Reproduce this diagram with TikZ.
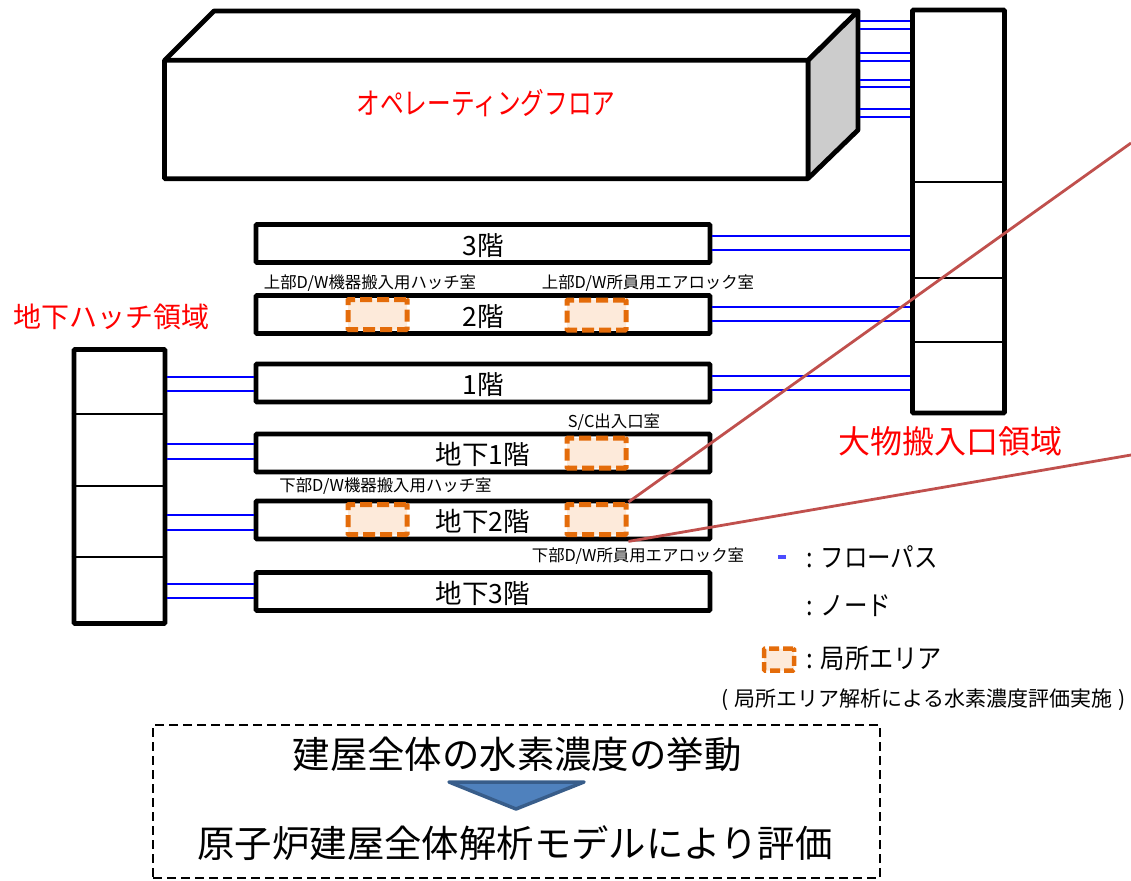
\documentclass[tikz,border=0pt]{standalone}
\usepackage{fontspec}
\setmainfont{Noto Sans CJK JP}
\definecolor{areaorange}{HTML}{E46C0A}
\definecolor{areafill}{HTML}{FDEADA}
\definecolor{leaderred}{HTML}{C0504D}
\definecolor{arrowblue}{HTML}{4F81BD}
\definecolor{arrowedge}{HTML}{385D8A}
\tikzset{
  zonebox/.style={rectangle, draw, line width=4.8pt, fill=white, inner sep=0pt, rounded corners=1pt},
  floorbox/.style={zonebox, minimum width=454pt, minimum height=38pt, text height=24pt, text depth=1pt, font=\fontsize{26.5}{26}\selectfont},
  localarea/.style={rectangle, draw=areaorange, fill=areafill, line width=5pt, dash pattern=on 12pt off 5pt, rounded corners=1pt, minimum width=59pt, minimum height=30pt, inner sep=0pt},
  flowpath/.style={blue, line width=1.8pt},
  divider/.style={line width=1.6pt},
  leader/.style={leaderred, line width=2.8pt},
  roomlabel/.style={font=\fontsize{16.4}{15}\selectfont, inner sep=0pt},
  redlabel/.style={red, inner sep=0pt},
  legendlabel/.style={font=\fontsize{27}{26}\selectfont, inner sep=0pt, anchor=west, xscale=.87, transform shape},
  summarytext/.style={font=\fontsize{37.4}{37}\selectfont, inner sep=0pt}
}
\begin{document}
\begin{tikzpicture}[x=1pt, y=-1pt]
    \useasboundingbox (0,0) rectangle (1131,880);
    % operating floor, with its top and side faces
    \draw [line width=4.8pt, fill=white, line join=round] (164.5,60.5) -- (214,11) -- (858,11) -- (808,60.5) -- cycle;
    \draw [line width=4.8pt, fill=black!20, line join=round] (808,60.5) -- (858,11) -- (858,130) -- (808,178.5) -- cycle;
    \node [zonebox, minimum width=643.5pt, minimum height=118.5pt] (opfloor) at (486.25,119.5) {};
    \node [redlabel, font=\fontsize{30}{30}\selectfont, xscale=.79, transform shape] (opfloorlabel) at (486,103) {オペレーティングフロア};
    % large equipment hatch zone
    \node [zonebox, minimum width=92pt, minimum height=403pt] (hatchzone) at (958.5,211.5) {};
    \draw [divider] (hatchzone.west |- 0,182) -- (hatchzone.east |- 0,182);
    \draw [divider] (hatchzone.west |- 0,278) -- (hatchzone.east |- 0,278);
    \draw [divider] (hatchzone.west |- 0,342) -- (hatchzone.east |- 0,342);
    \node [redlabel, font=\fontsize{32}{32}\selectfont] (hatchzonelabel) at (950,441) {大物搬入口領域};
    % basement hatch zone
    \node [zonebox, minimum width=91pt, minimum height=274pt] (basezone) at (119.5,486.5) {};
    \draw [divider] (basezone.west |- 0,414) -- (basezone.east |- 0,414);
    \draw [divider] (basezone.west |- 0,486) -- (basezone.east |- 0,486);
    \draw [divider] (basezone.west |- 0,557) -- (basezone.east |- 0,557);
    \node [redlabel, font=\fontsize{28}{28}\selectfont] (basezonelabel) at (111.5,317) {地下ハッチ領域};
    % floors
    \node [floorbox] (floorC) at (483,243.5) {3階};
    \node [floorbox] (floorB) at (483,314.5) {2階};
    \node [floorbox] (floorA) at (483,383) {1階};
    \node [floorbox] (basementA) at (483,453) {地下1階};
    \node [floorbox] (basementB) at (483,520) {地下2階};
    \node [floorbox] (basementC) at (483,591.5) {地下3階};
    % flow paths
    \foreach \y in {21,29,53,61,80,87,109,117}
      \draw [flowpath] (860,\y) -- (hatchzone.west |- 0,\y);
    \foreach \floorname/\ya/\yb in {floorC/236/250, floorB/307/321, floorA/376/390}
      \draw [flowpath] (\floorname.east |- 0,\ya) -- (hatchzone.west |- 0,\ya)
                       (\floorname.east |- 0,\yb) -- (hatchzone.west |- 0,\yb);
    \foreach \floorname/\ya/\yb in {floorA/377/391, basementA/444/459, basementB/515/530, basementC/584/598}
      \draw [flowpath] (basezone.east |- 0,\ya) -- (\floorname.west |- 0,\ya)
                       (basezone.east |- 0,\yb) -- (\floorname.west |- 0,\yb);
    % local areas
    \node [localarea] (areaA) at (377.5,314.5) {};
    \node [localarea] (areaB) at (596.5,315) {};
    \node [localarea] (areaC) at (596.5,453) {};
    \node [localarea] (areaD) at (377.5,519.5) {};
    \node [localarea] (areaE) at (596.5,519.5) {};
    \node [roomlabel] (roomA) at (370,283) {上部D/W機器搬入用ハッチ室};
    \node [roomlabel] (roomB) at (648,283) {上部D/W所員用エアロック室};
    \node [roomlabel] (roomC) at (614,422) {S/C出入口室};
    \node [roomlabel] (roomD) at (385.5,486) {下部D/W機器搬入用ハッチ室};
    \node [roomlabel] (roomE) at (638,556) {下部D/W所員用エアロック室};
    % leaders to the enlarged view
    \coordinate (leaderA) at (1131,143);
    \coordinate (leaderB) at (1131,455);
    \draw [leader] (areaE.north east) -- (leaderA);
    \draw [leader] (areaE.east |- basementB.south) -- (leaderB);
    % legend
    \node [fill=blue!70, minimum width=8pt, minimum height=3.5pt, inner sep=0pt] (legendflow) at (782,557) {};
    \node [legendlabel] (legendflowtext) at (806,557) {:\hspace{9pt}フローパス};
    \node [legendlabel] (legendnodetext) at (806,606) {:\hspace{9pt}ノード};
    \node [localarea, line width=4.5pt, dash pattern=on 10pt off 4pt, minimum width=30pt, minimum height=22pt] (legendarea) at (779,659.5) {};
    \node [legendlabel, xscale=1.03] (legendareatext) at (806,658) {:\hspace{9pt}局所エリア};
    \node [font=\fontsize{21}{18}\selectfont, inner sep=0pt] (legendnote) at (923.5,700) {(\hspace{6pt}局所エリア解析による水素濃度評価実施\hspace{6pt})};
    % summary box
    \node [rectangle, draw, line width=1.6pt, dash pattern=on 9pt off 5pt, minimum width=727pt, minimum height=153pt, inner sep=0pt] (summarybox) at (516.5,801.5) {};
    \node [summarytext] (summarytop) at (517,754) {建屋全体の水素濃度の挙動};
    \draw [draw=arrowedge, fill=arrowblue, line width=3.5pt, line join=round] (449,782) -- (584,782) -- (516,809) -- cycle;
    \node [summarytext] (summarybottom) at (515,843) {原子炉建屋全体解析モデルにより評価};
\end{tikzpicture}
\end{document}
